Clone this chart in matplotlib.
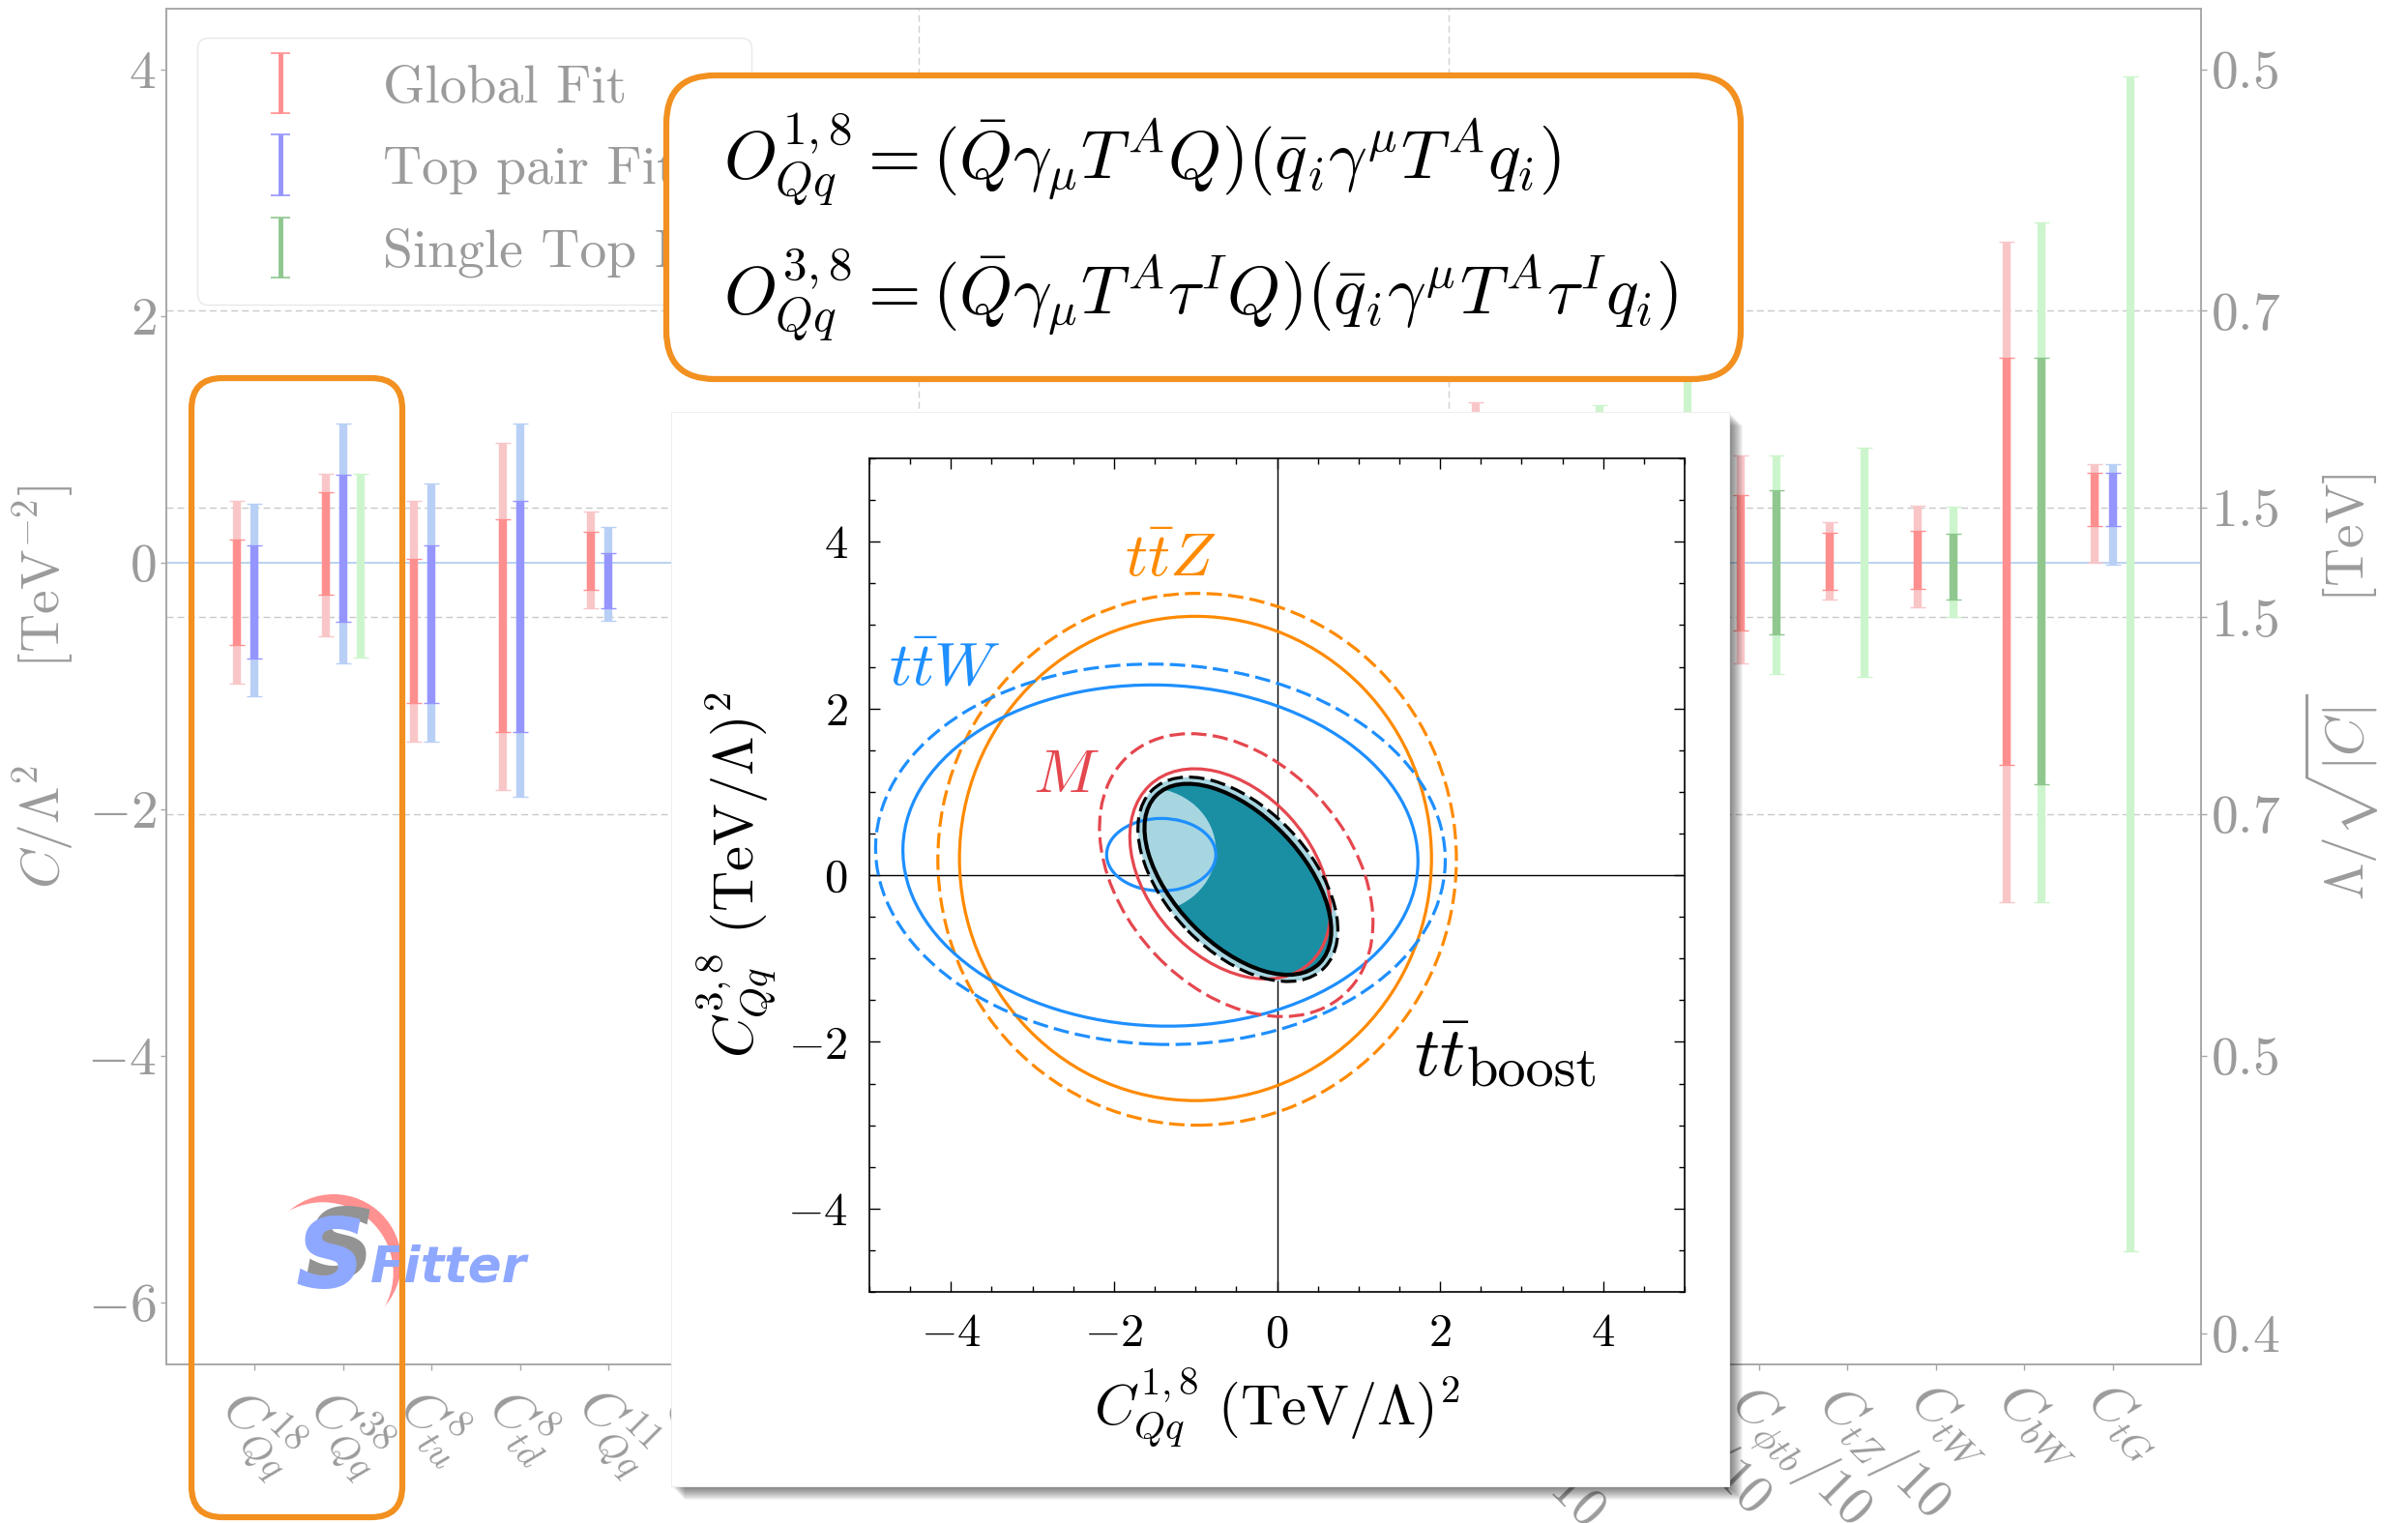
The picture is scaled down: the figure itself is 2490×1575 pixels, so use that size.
import numpy as np
import matplotlib
matplotlib.use("Agg")
import matplotlib.pyplot as plt
from matplotlib.container import ErrorbarContainer
from matplotlib.legend_handler import HandlerErrorbar
from matplotlib.patches import Ellipse, FancyBboxPatch, Rectangle, Circle
from matplotlib.ticker import MultipleLocator
from matplotlib.transforms import IdentityTransform

plt.rcParams["mathtext.fontset"] = "cm"
plt.rcParams["font.family"] = "serif"
plt.rcParams["font.serif"] = ["cmr10"]
plt.rcParams["axes.unicode_minus"] = False

W, H, DPI = 2490, 1575, 100
nan = np.nan

# ---------------- main chart data ----------------
operators = [
    r"$C^{18}_{Qq}$", r"$C^{38}_{Qq}$", r"$C^{8}_{tu}$", r"$C^{8}_{td}$", r"$C^{11}_{Qq}$",
    r"$C^{31}_{Qq}$", r"$C^{1}_{tu}$", r"$C^{1}_{td}$", r"$C^{8}_{Qu}$", r"$C^{8}_{Qd}$",
    r"$C^{8}_{tq}$", r"$C^{1}_{Qu}$", r"$C^{1}_{Qd}$", r"$C^{1}_{tq}$",
    r"$C_{\phi Q}^{-}/10$", r"$C_{\phi Q}^{3}$", r"$C_{\phi t}/10$", r"$C_{\phi tb}/10$",
    r"$C_{tZ}/10$", r"$C_{tW}$", r"$C_{bW}$", r"$C_{tG}$",
]

# Global fit (68% inner, 95% outer)
glob_out_lo = [-0.98, -0.60, -1.45, -1.84, -0.37, -0.45, -1.00, -1.20, -1.60, -1.90, -1.10,
               -0.90, -1.20, -0.80, -0.90, -0.50, -1.50, -0.82, -0.30, -0.36, -2.75, 0.00]
glob_out_hi = [0.50, 0.72, 0.50, 0.97, 0.41, 0.35, 0.90, 1.10, 0.90, 1.10, 0.70,
               1.00, 1.15, 0.90, 1.30, 0.40, 1.00, 0.87, 0.33, 0.46, 2.60, 0.80]
glob_in_lo = [-0.67, -0.26, -1.14, -1.37, -0.22, -0.25, -0.60, -0.70, -1.10, -1.30, -0.70,
              -0.50, -0.70, -0.40, -0.30, -0.30, -0.90, -0.55, -0.22, -0.21, -1.64, 0.30]
glob_in_hi = [0.19, 0.57, 0.03, 0.35, 0.25, 0.20, 0.50, 0.60, 0.40, 0.50, 0.30,
              0.60, 0.70, 0.50, 0.80, 0.25, 0.50, 0.55, 0.24, 0.26, 1.66, 0.73]

# Top pair fit
tt_out_lo = [-1.08, -0.82, -1.45, -1.90, -0.47, -0.55, -1.10, -1.30, -1.70, -2.00, -1.20,
             -1.00, -1.30, -0.90, nan, nan, nan, nan, nan, nan, nan, -0.02]
tt_out_hi = [0.48, 1.13, 0.64, 1.13, 0.29, 0.40, 0.95, 1.15, 1.00, 1.15, 0.80,
             1.05, 1.15, 0.95, nan, nan, nan, nan, nan, nan, nan, 0.80]
tt_in_lo = [-0.78, -0.48, -1.14, -1.37, -0.37, -0.30, -0.65, -0.75, -1.15, -1.35, -0.75,
            -0.55, -0.75, -0.45, nan, nan, nan, nan, nan, nan, nan, 0.30]
tt_in_hi = [0.14, 0.71, 0.14, 0.50, 0.08, 0.22, 0.55, 0.65, 0.45, 0.55, 0.35,
            0.65, 0.75, 0.55, nan, nan, nan, nan, nan, nan, nan, 0.73]

# Single top fit
st_out_lo = [nan, -0.77, nan, nan, nan, -0.60, nan, nan, nan, nan, nan,
             nan, nan, nan, nan, -1.00, -1.60, -0.90, -0.93, -0.44, -2.75, -5.58]
st_out_hi = [nan, 0.72, nan, nan, nan, 0.50, nan, nan, nan, nan, nan,
             nan, nan, nan, nan, 1.28, 2.00, 0.87, 0.93, 0.455, 2.76, 3.94]
st_in_lo = [nan, nan, nan, nan, nan, -0.35, nan, nan, nan, nan, nan,
            nan, nan, nan, nan, -0.60, -1.00, -0.58, nan, -0.30, -1.80, nan]
st_in_hi = [nan, nan, nan, nan, nan, 0.30, nan, nan, nan, nan, nan,
            nan, nan, nan, nan, 0.80, 1.20, 0.59, nan, 0.23, 1.66, nan]

series_names = ["Global Fit", "Top pair Fit", "Single Top Fit"]

y_ticks = [4, 2, 0, -2, -4, -6]
y_ticklabels = [r"$4$", r"$2$", r"$0$", r"$-2$", r"$-4$", r"$-6$"]
scale_tev = [0.5, 0.7, 1.5, 1.5, 0.7, 0.5, 0.4]
scale_sign = [1, 1, 1, -1, -1, -1, -1]
grid_tev = [0.7, 1.5]
group_edges = [7.5, 13.5]

# ---------------- inset data (contour ellipses) ----------------
ell_names = ["ttZ", "ttZ", "ttW", "ttW", "ttW_small", "M", "M", "boost", "boost"]
ell_x = [-1.00, -0.98, -1.43, -1.43, -1.42, -0.575, -0.50, -0.48, -0.48]
ell_y = [0.20, 0.19, 0.235, 0.25, 0.245, 0.015, 0.00, -0.05, -0.05]
ell_w = [5.79, 6.36, 6.32, 6.99, 1.34, 2.90, 3.90, 2.84, 3.00]
ell_h = [5.81, 6.38, 4.09, 4.56, 0.87, 2.00, 2.75, 1.56, 1.74]
ell_ang = [0, 0, -2, -2, 0, -47, -46, -45, -45]
ell_dashed = [False, True, False, True, False, False, True, False, True]
cut_xy, cut_w, cut_h = (-1.60, 0.30), 1.70, 1.50

inset_ticks = [-4, -2, 0, 2, 4]
inset_ticklabels = [r"$-4$", r"$-2$", r"$0$", r"$2$", r"$4$"]

# ---------------- colours ----------------
GRAY = "#9b9b9b"
SPINE = "#a8a8a8"
ORANGE_BOX = "#f29020"
red_in, red_out = "#ff8f8f", "#f9c6c8"
blue_in, blue_out = "#9595ff", "#b9d0f6"
green_in, green_out = "#8fc78f", "#cdf5cd"
c_ttz, c_ttw, c_m, c_boost = "#ff8a00", "#1e8fff", "#e5474f", "black"
teal_dark, teal_light = "#1a8fa4", "#a7d6e1"
ell_colors = {"ttZ": c_ttz, "ttW": c_ttw, "ttW_small": c_ttw, "M": c_m, "boost": c_boost}


def draw_bars(ax, offset, lo, hi, color, lw=6.0, z=3):
    lo = np.asarray(lo, float)
    hi = np.asarray(hi, float)
    ok = ~np.isnan(lo)
    x = np.arange(len(lo))[ok] + offset
    mid = (lo[ok] + hi[ok]) / 2
    half = (hi[ok] - lo[ok]) / 2
    ax.errorbar(x, mid, yerr=half, fmt="none", ecolor=color, elinewidth=lw,
                capsize=5.5, capthick=1.0, zorder=z)


def pix_box(x0, y_top, x1, y_bot, radius, **kw):
    return FancyBboxPatch((x0, H - y_bot), x1 - x0, y_bot - y_top,
                          boxstyle=f"round,pad=0,rounding_size={radius}",
                          transform=IdentityTransform(), **kw)


fig = plt.figure(figsize=(W / DPI, H / DPI), dpi=DPI)
fig.patch.set_facecolor("white")

# ================= main axes =================
ax = fig.add_axes([172 / W, 1 - 1411 / H, (2276 - 172) / W, (1411 - 9) / H])
ax.set_xlim(-1, 22)
ax.set_ylim(-6.5, 4.49)

grid_levels = [s / v ** 2 for v in grid_tev for s in (1, -1)]
for lev in grid_levels:
    ax.axhline(lev, color="#c9c9c9", lw=1.0, ls=(0, (5, 3)), zorder=1)
for xe in group_edges:
    ax.axvline(xe, color="#d0d0d0", lw=1.0, ls=(0, (5, 3)), zorder=1)
ax.axhline(0, color="#a6c8ec", lw=1.1, zorder=1.5)

draw_bars(ax, -0.2, glob_out_lo, glob_out_hi, red_out)
draw_bars(ax, 0.0, tt_out_lo, tt_out_hi, blue_out)
draw_bars(ax, 0.2, st_out_lo, st_out_hi, green_out)
draw_bars(ax, -0.2, glob_in_lo, glob_in_hi, red_in, z=4)
draw_bars(ax, 0.0, tt_in_lo, tt_in_hi, blue_in, z=4)
draw_bars(ax, 0.2, st_in_lo, st_in_hi, green_in, z=4)

# legend proxies (placed outside the visible range)
handles = []
for name, col in zip(series_names, [red_in, blue_in, green_in]):
    h = ax.errorbar([-10], [0], yerr=[0.5], fmt="none", ecolor=col, elinewidth=3.5,
                    capsize=7, capthick=1.2, label=name)
    handles.append(h)
leg = ax.legend(handles=handles, loc="upper left", bbox_to_anchor=(0.0152, 0.9786),
                borderaxespad=0, fontsize=40, handlelength=2.1, handletextpad=0.85,
                borderpad=0.5, labelspacing=0.62, fancybox=True, framealpha=1,
                edgecolor="#e8e8e8", labelcolor=GRAY,
                handler_map={ErrorbarContainer: HandlerErrorbar(yerr_size=0.56)})

ax.set_yticks(y_ticks)
ax.set_yticklabels(y_ticklabels)
ax.set_xticks(range(len(operators)))
ax.set_xticklabels(operators, rotation=-45, ha="left", va="top", rotation_mode="anchor")
ax.tick_params(axis="both", colors=SPINE, labelcolor=GRAY, labelsize=40, length=4, width=1)
ax.set_ylabel(r"$C/\Lambda^2\qquad[\mathrm{TeV}^{-2}]$", fontsize=40, color=GRAY, labelpad=8)
for sp in ax.spines.values():
    sp.set_color(SPINE)
    sp.set_linewidth(1.2)

ax2 = ax.twinx()
ax2.set_ylim(ax.get_ylim())
ax2.set_yticks([s / v ** 2 for s, v in zip(scale_sign, scale_tev)])
ax2.set_yticklabels([f"${v}$" for v in scale_tev])
ax2.tick_params(axis="y", colors=SPINE, labelcolor=GRAY, labelsize=40, length=4, width=1)
ax2.set_ylabel(r"$\Lambda/\sqrt{|C|}\qquad[\mathrm{TeV}]$", fontsize=40, color=GRAY, labelpad=16)
for sp in ax2.spines.values():
    sp.set_color(SPINE)
    sp.set_linewidth(1.2)

# ================= SFitter logo =================
fig.add_artist(Circle((345, H - 1305), 70, transform=IdentityTransform(),
                      facecolor="#ff9191", edgecolor="none", zorder=1.1))
fig.add_artist(Circle((333.7, H - 1316.3), 73, transform=IdentityTransform(),
                      facecolor="white", edgecolor="none", zorder=1.2))
fig.text(315, H - 1322, "S", transform=IdentityTransform(), fontsize=72, color="#939393",
         family="DejaVu Sans", weight="bold", style="italic", zorder=1.3)
fig.text(305, H - 1332, "S", transform=IdentityTransform(), fontsize=72, color="#8fa8ff",
         family="DejaVu Sans", weight="bold", style="italic", zorder=1.4)
fig.text(383, H - 1325, "Fitter", transform=IdentityTransform(), fontsize=37, color="#8fa8ff",
         family="DejaVu Sans", weight="bold", style="italic", zorder=1.4)

# ================= operator definition box =================
fig.add_artist(pix_box(689, 78, 1800, 392, 50, facecolor="white", edgecolor=ORANGE_BOX,
                       lw=4.5, zorder=6))
fig.text(748, H - 185,
         r"$O^{1,8}_{Qq} = (\bar{Q}\gamma_\mu T^A Q)(\bar{q}_i\gamma^\mu T^A q_i)$",
         transform=IdentityTransform(), fontsize=50.5, color="black", zorder=7)
fig.text(748, H - 325,
         r"$O^{3,8}_{Qq} = (\bar{Q}\gamma_\mu T^A \tau^I Q)(\bar{q}_i\gamma^\mu T^A \tau^I q_i)$",
         transform=IdentityTransform(), fontsize=50.5, color="black", zorder=7)

# highlight box around the two operators
fig.add_artist(pix_box(198, 391, 416, 1569, 32, facecolor="none", edgecolor=ORANGE_BOX,
                       lw=4.5, zorder=6))

# ================= inset panel =================
px0, ptop, px1, pbot = 694, 426, 1788, 1537
for k in range(1, 15):
    fig.add_artist(Rectangle((px0 + k, H - pbot - k), px1 - px0, pbot - ptop,
                             transform=IdentityTransform(), facecolor="black",
                             edgecolor="none", alpha=0.045, zorder=3.9))
fig.add_artist(Rectangle((px0, H - pbot), px1 - px0, pbot - ptop, transform=IdentityTransform(),
                         facecolor="white", edgecolor="#eeeeee", lw=0.8, zorder=4))

axi = fig.add_axes([899 / W, 1 - 1336 / H, (1742 - 899) / W, (1336 - 474) / H], zorder=5)
axi.set_xlim(-5, 5)
axi.set_ylim(-5, 5)
axi.axhline(0, color="black", lw=1.0, zorder=1)
axi.axvline(0, color="black", lw=1.0, zorder=1)

bi = ell_names.index("boost")
light = Ellipse((ell_x[bi + 1], ell_y[bi + 1]), ell_w[bi + 1], ell_h[bi + 1], angle=ell_ang[bi + 1],
                facecolor=teal_light, edgecolor="none", zorder=2)
dark = Ellipse((ell_x[bi], ell_y[bi]), ell_w[bi], ell_h[bi], angle=ell_ang[bi],
               facecolor=teal_dark, edgecolor="none", zorder=3)
cut = Ellipse(cut_xy, cut_w, cut_h, facecolor=teal_light, edgecolor="none", zorder=3.5)
axi.add_patch(light)
axi.add_patch(dark)
axi.add_patch(cut)
cut.set_clip_path(dark)

for name, x, y, w, h, a, dsh in zip(ell_names, ell_x, ell_y, ell_w, ell_h, ell_ang, ell_dashed):
    lw = 3.0 if name == "boost" and not dsh else 2.3
    axi.add_patch(Ellipse((x, y), w, h, angle=a, fill=False, edgecolor=ell_colors[name], lw=lw,
                          ls=(0, (5, 2)) if dsh else "-", zorder=4))

axi.text(-1.87, 3.58, r"$t\bar{t}Z$", color=c_ttz, fontsize=46)
axi.text(-4.76, 2.28, r"$t\bar{t}W$", color=c_ttw, fontsize=46)
axi.text(-3.0, 1.0, r"$M$", color=c_m, fontsize=46)
axi.text(1.68, -2.41, r"$t\bar{t}$", color=c_boost, fontsize=52)
axi.text(2.33, -2.53, "boost", color=c_boost, fontsize=42)

axi.set_xticks(inset_ticks)
axi.set_xticklabels(inset_ticklabels)
axi.set_yticks(inset_ticks)
axi.set_yticklabels(inset_ticklabels)
axi.xaxis.set_minor_locator(MultipleLocator(0.5))
axi.yaxis.set_minor_locator(MultipleLocator(0.5))
axi.tick_params(which="both", direction="in", top=True, right=True, labelsize=35, width=1.0)
axi.tick_params(which="major", length=8, pad=16)
axi.tick_params(which="minor", length=4)
axi.set_xlabel(r"$C^{1,8}_{Qq}\ (\mathrm{TeV}/\Lambda)^2$", fontsize=42, labelpad=8)
axi.set_ylabel(r"$C^{3,8}_{Qq}\ (\mathrm{TeV}/\Lambda)^2$", fontsize=42, labelpad=6)
for sp in axi.spines.values():
    sp.set_linewidth(1.2)

fig.savefig("out.png", dpi=DPI)
